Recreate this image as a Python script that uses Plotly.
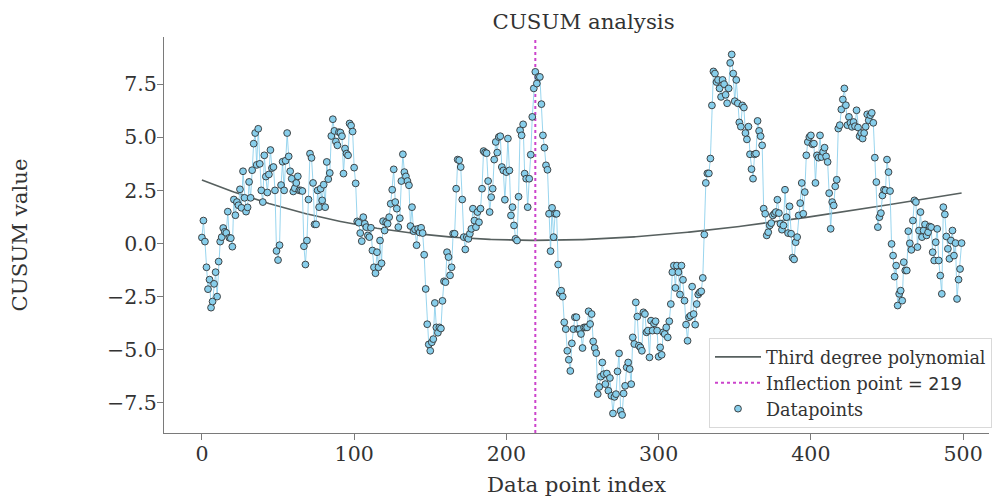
import numpy as np
import plotly.graph_objects as go

# CUSUM values per data point, index 0..499
seg_a = [0.28, 1.08, 0.09, -1.12, -2.15, -1.7, -3.02, -2.73, -1.9, -1.35, -2.5, -0.85, 0.09, 0.3,
         0.73, 0.55, 0.5, 1.5, 0.27, 0.25, -0.15, 2.07, 1.33, 1.95, 1.8, 2.55, 1.68, 3.4, 2.15, 1.5,
         1.7, 2.9, 2.15, 3.45, 4.7, 5.2, 3.7, 5.4, 3.75, 2.5, 1.95, 4.15, 3.15, 2.4, 3.25, 4.4, 3.55,
         3.6, 2.5, -0.35, -0.78, -0.08, 2.75, 3.85, 2.5, 3.9, 5.2, 4.1, 3.4, 3.05, 2.45, 2.6, 2.85, 3.16]
seg_b = [2.5, 2.5, 2.47, -0.13, -0.99, 0.14, 2.07, 4.23, 4.03, 2.85, 0.9, 0.9, 2.5, 1.71, 2.58, 2.03,
         2.77, 1.71, 3.84, 3.03, 3.32, 5.06, 5.85, 5.3, 4.8, 4.62, 5.24, 5.22, 5.05, 3.29, 4.47, 4.23,
         4.15, 5.65, 5.55, 5.27, 3.57, 2.83, 1.04, 0.98, 0.49]
seg_c = [0.11, 1.24, 0.93, 0.77, 0.38, 0.3, 0.74, -0.33, -1.12, -1.4, -0.41, -1.12, 0.14, -0.93, 1.05,
         0.61, 1.0, 0.93, 1.24, 1.87, 2.53, 3.49, 1.95, 1.64, 0.77, 1.19, 2.94, 4.2, 3.36, 3.16, 2.94,
         2.74, 0.82, 1.71, 0.58, 0.66, -0.08, 0.69, 0.52, 0.74, 0.49, -0.53, -2.14]
seg_d = [-3.8, -4.75, -5.05, -4.65, -4.5, -2.8, -3.95, -4.2, -3.95, -4.0, -2.7, -1.78, -1.82, -0.41,
         -0.64, -1.5, -1.12, 0.46, 0.46, 2.58, 3.95, 3.92, 3.6, 2.07, 0.3, -0.28, 0.3, 0.22, 0.46, 0.69,
         1.64, 1.08, 0.77, 1.48, 1.0, 1.64, 2.58, 4.35, 4.28, 4.25, 2.94, 1.48, 2.18, 2.58, 3.95, 4.78,
         4.28, 5.01, 5.05, 3.6, 3.44, 2.06, 3.36, 4.94, 3.44, 1.32, 1.71, 0.85, 0.22, 0.14, 2.2]
seg_e = [5.33, 5.09, 5.61, 3.29, 3.05, 1.71, 3.05, 4.18, 5.96, 7.3, 8.08, 7.53, 7.84, 7.84, 6.56, 5.09,
         4.51, 3.68, 3.47, 1.4, -0.36, 1.68, 0.3, 1.4, 1.4, -0.99, -2.34, -2.22, -2.5, -3.71, -4.03,
         -5.05, -5.47, -6.0, -4.7, -4.03, -3.47, -3.47, -4.03, -4.03, -4.26, -4.92, -3.95, -3.95, -3.95,
         -3.19, -3.79, -3.32, -4.61, -4.92, -5.16]
seg_f = [-7.09, -6.75, -6.27, -5.6, -6.15, -6.62, -6.12, -6.93, -6.33, -7.17, -8.0, -7.22, -7.09,
         -6.02, -5.17, -7.88, -8.07, -7.06, -6.7, -5.83, -5.6, -5.91, -6.62, -4.42, -4.73, -2.77, -3.44,
         -4.81, -4.89, -5.05, -3.24, -3.32, -4.18, -4.1, -5.36, -3.63, -4.1, -3.76, -3.66, -4.1, -5.33,
         -4.89, -5.24, -4.18, -4.26, -3.95, -4.42, -3.66, -2.85, -1.35, -1.04, -2.09]
seg_g = [-1.04, -1.35, -2.4, -1.04, -1.71, -2.69, -3.82, -4.58, -3.47, -3.4, -2.03, -3.32, -3.82,
         -2.85, -2.4, -2.3, -2.25, -1.62, 0.42]
seg_h = [2.85, 3.3, 3.3, 4.0, 6.5, 8.1, 8.0, 7.6, 7.7, 7.3, 6.9, 7.7, 7.5, 7.0, 6.6, 7.3, 8.5, 8.9, 8.0,
         6.7, 7.7, 6.6, 5.7, 5.5, 6.5, 6.4, 5.2, 4.9, 5.5, 4.2, 3.5, 3.05, 4.2, 4.23, 5.77, 5.3, 5.05,
         4.62]
seg_i = [1.64, 1.4, 0.38, 0.53, 0.85, 0.96, 1.32, 1.4, 1.48, 2.06, 1.43, 0.93, 0.65, 0.85, 2.53, 1.24,
         0.49, 1.75, 0.46, -0.67, -0.75, 0.06, 0.3, 1.32, 1.9, 2.85, 1.4, 2.42, 4.15, 4.78, 5.01, 5.09,
         4.67, 4.7, 2.85, 4.15, 4.04, 5.09, 4.07, 4.31, 4.51, 4.1, 3.84, 2.37, 0.69, 1.95, 1.79, 2.69]
seg_j = [3.0, 5.41, 5.57, 6.31, 6.78, 7.3, 6.51, 5.57, 5.96, 5.68, 5.49, 5.72, 5.52, 6.27, 5.46, 5.05,
         5.2, 4.94, 5.2, 5.5, 6.08, 5.8, 6.04, 6.15, 5.68, 4.04, 2.89, 0.77, 1.24, 1.43, 2.26, 2.53, 2.5,
         3.95, 3.36, 2.47, -0.02, -0.57, -1.56, -1.04, -2.92, -2.37, -2.22, -2.69, -0.88, -1.27, -1.27,
         0.58, 0.01, -0.3, 1.08, 2.03]
seg_k = [1.95, -0.17, 0.61, 1.48, 0.3, 0.61, 0.9, 0.38, 0.53, 0.8, 0.77, -0.41, -0.8, 0.06, 0.69, -0.8,
         -1.51, -2.37, 1.71, 1.37, 0.33, -0.25, -0.72, 0.14, 0.61, -0.57, 0.02, -2.61, -1.7, -1.2, 0.02]

cusum = seg_a + seg_b + seg_c + seg_d + seg_e + seg_f + seg_g + seg_h + seg_i + seg_j + seg_k
index = np.arange(len(cusum))

inflection_point = 219

x_ticks = [0, 100, 200, 300, 400, 500]
y_ticks = [-7.5, -5.0, -2.5, 0.0, 2.5, 5.0, 7.5]
y_tick_text = ["\u22127.5", "\u22125.0", "\u22122.5", "0.0", "2.5", "5.0", "7.5"]

# third degree polynomial fitted to the CUSUM series
coeffs = np.polyfit(index, cusum, 3)
poly_y = np.polyval(coeffs, index)

font_family = "DejaVu Serif"
text_color = "#333333"
y_range = [-8.92, 9.72]

fig = go.Figure()

fig.add_trace(go.Scatter(
    x=index, y=poly_y, mode="lines",
    line=dict(color="#57605f", width=1.6),
    name="Third degree polynomial",
))

fig.add_trace(go.Scatter(
    x=[inflection_point, inflection_point], y=y_range, mode="lines",
    line=dict(color="#cc44cc", width=2, dash="dot"),
    name="Inflection point <span style='font-family:DejaVu Sans'>= 219</span>",
))

fig.add_trace(go.Scatter(
    x=index, y=cusum, mode="lines",
    line=dict(color="rgba(135,206,235,0.85)", width=1),
    showlegend=False, hoverinfo="skip",
))

fig.add_trace(go.Scatter(
    x=index, y=cusum, mode="markers",
    marker=dict(color="#87ceeb", size=6.8, line=dict(color="#333333", width=0.9)),
    name="Datapoints",
))

axis_common = dict(
    showline=True, linecolor="#7a7a7a", linewidth=1.3,
    ticks="outside", ticklen=6, tickwidth=1.3, tickcolor="#7a7a7a",
    showgrid=False, zeroline=False, ticklabelstandoff=-4, automargin=False,
    tickfont=dict(family=font_family, size=20.5, color=text_color),
)

fig.update_layout(
    width=992, height=497,
    margin=dict(l=164, r=0, t=37, b=64),
    paper_bgcolor="white", plot_bgcolor="white",
    font=dict(family=font_family, color=text_color),
    title=dict(text="CUSUM analysis", x=0.5883, xanchor="center", y=0.957, yanchor="middle",
               font=dict(family=font_family, size=21.3, color=text_color)),
    xaxis=dict(range=[-24.9, 517], tickvals=x_ticks,
               title=dict(text="Data point index", standoff=20,
                          font=dict(family=font_family, size=21.3, color=text_color)),
               **axis_common),
    yaxis=dict(range=y_range, tickvals=y_ticks, ticktext=y_tick_text,
               title=dict(text="CUSUM value", standoff=73,
                          font=dict(family=font_family, size=21.3, color=text_color)),
               **axis_common),
    legend=dict(x=0.661, y=0.24, xanchor="left", yanchor="top",
                bgcolor="white", bordercolor="#d9d9d9", borderwidth=1, itemwidth=46,
                font=dict(family=font_family, size=17.6, color=text_color)),
    showlegend=True,
)

fig.write_html("out.html")
